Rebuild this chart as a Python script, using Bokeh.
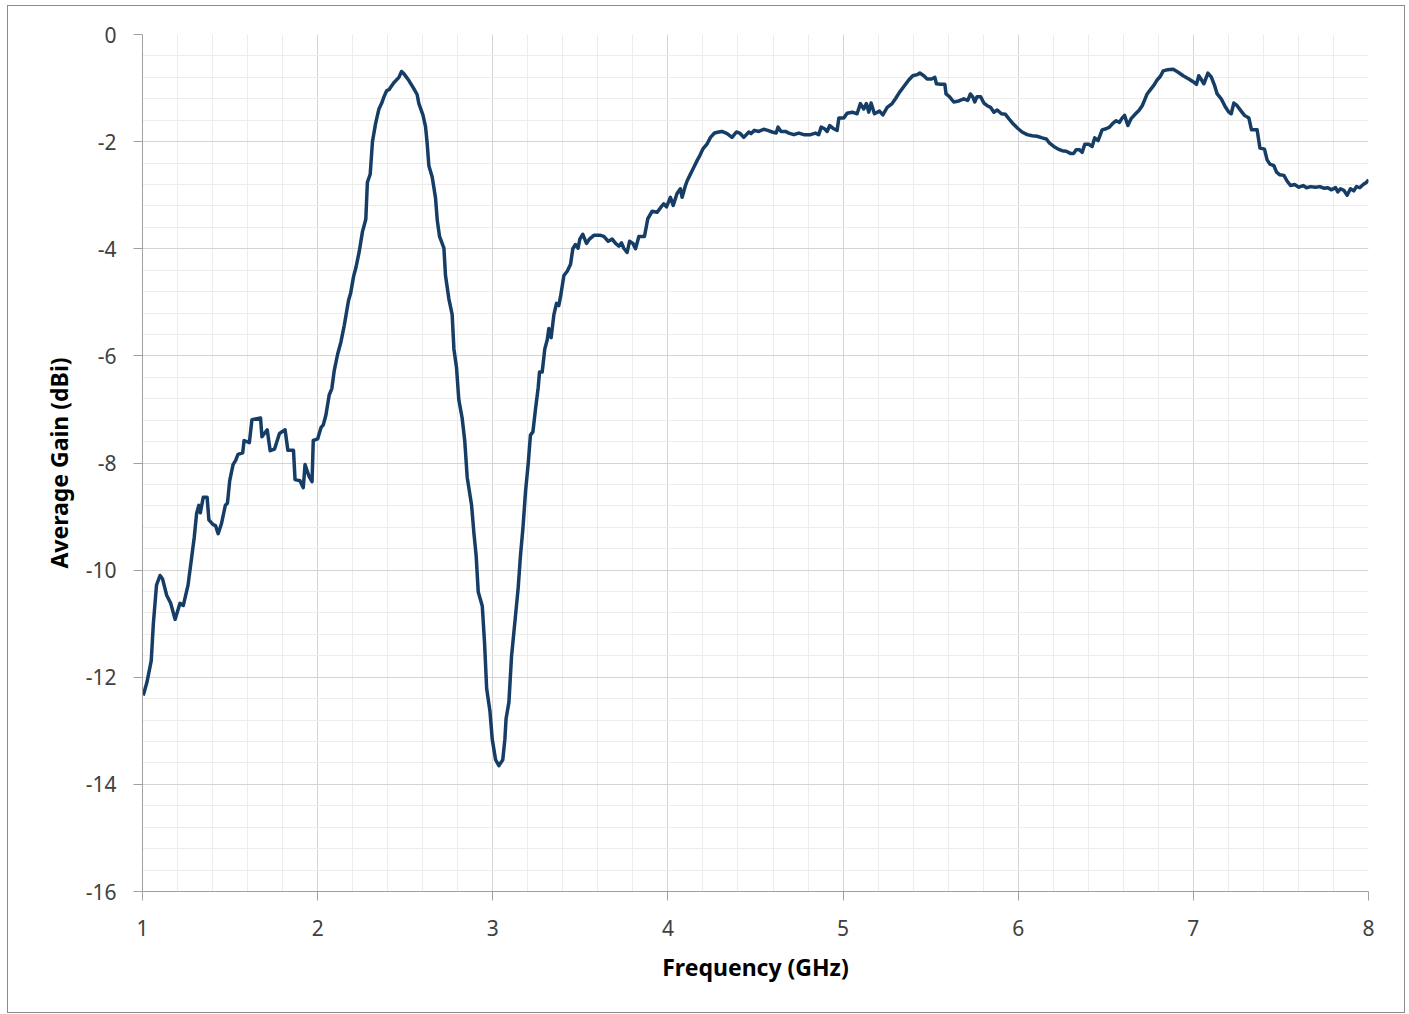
from bokeh.plotting import figure
from bokeh.models import Range1d, SingleIntervalTicker
from bokeh.embed import file_html
from bokeh.resources import INLINE

# ---- data ----
freq_ghz = [
    1.004, 1.025, 1.05, 1.062, 1.08, 1.10, 1.114, 1.138, 1.161, 1.186, 1.214, 1.233, 1.26, 1.28, 1.295,
    1.309, 1.322, 1.33, 1.347, 1.369, 1.379, 1.403, 1.417, 1.432, 1.451, 1.473, 1.485, 1.498, 1.517,
    1.532, 1.545, 1.572, 1.58, 1.61, 1.625, 1.674, 1.682, 1.712, 1.729, 1.754, 1.782, 1.814, 1.83,
    1.862, 1.871, 1.899, 1.918, 1.928, 1.951, 1.968, 1.975, 2.0, 2.019, 2.032, 2.047, 2.066, 2.081,
    2.095, 2.114, 2.133, 2.152, 2.176, 2.189, 2.205, 2.218, 2.237, 2.256, 2.275, 2.284, 2.3, 2.313,
    2.331, 2.35, 2.366, 2.379, 2.394,
    2.407, 2.435, 2.464, 2.479, 2.492, 2.521, 2.549, 2.568, 2.578, 2.601, 2.616, 2.625, 2.635, 2.654,
    2.673, 2.683, 2.696, 2.721, 2.73, 2.749, 2.768, 2.778, 2.793, 2.806, 2.825, 2.84, 2.854, 2.879,
    2.892, 2.905, 2.917, 2.94, 2.953, 2.965, 2.984, 2.997, 3.016, 3.035, 3.057, 3.069, 3.076, 3.092,
    3.107, 3.13, 3.145, 3.158, 3.172, 3.187, 3.202, 3.215, 3.229, 3.244, 3.259, 3.267, 3.282, 3.297,
    3.311, 3.32, 3.333, 3.349, 3.364, 3.377, 3.387, 3.406, 3.425, 3.444, 3.457, 3.472, 3.487, 3.497,
    3.514, 3.535, 3.552, 3.577, 3.615, 3.634, 3.659, 3.682, 3.701, 3.72, 3.735, 3.748, 3.767, 3.781,
    3.8,
    3.815, 3.834, 3.866, 3.885, 3.91, 3.938, 3.961, 3.976, 3.992, 4.014, 4.03, 4.052, 4.071, 4.081,
    4.1, 4.11, 4.125, 4.148, 4.167, 4.182, 4.201, 4.224, 4.243, 4.266, 4.29, 4.309, 4.338, 4.366,
    4.391, 4.41, 4.433, 4.462, 4.475, 4.494, 4.519, 4.547, 4.57, 4.595, 4.618, 4.629, 4.646, 4.671,
    4.69, 4.719, 4.747, 4.776, 4.814, 4.842, 4.861, 4.875, 4.894, 4.909, 4.924, 4.947, 4.966, 4.976,
    5.004, 5.023, 5.052, 5.08, 5.099, 5.118, 5.133, 5.147, 5.16, 5.179,
    5.208, 5.227, 5.252, 5.28, 5.299, 5.322, 5.347, 5.375, 5.398, 5.423, 5.438, 5.461, 5.48, 5.505,
    5.524, 5.533, 5.556, 5.581, 5.588, 5.607, 5.632, 5.661, 5.689, 5.712, 5.727, 5.741, 5.752, 5.765,
    5.785, 5.804, 5.823, 5.842, 5.861, 5.88, 5.904, 5.927, 5.946, 5.969, 6.0, 6.022, 6.051, 6.08,
    6.108, 6.137, 6.16, 6.179, 6.203, 6.228, 6.251, 6.274, 6.298, 6.317, 6.331, 6.35, 6.365, 6.38,
    6.403, 6.422, 6.437, 6.456, 6.479, 6.502, 6.521, 6.54, 6.559, 6.578,
    6.593, 6.607, 6.626, 6.645, 6.67, 6.689, 6.708, 6.721, 6.736, 6.755, 6.774, 6.793, 6.812, 6.828,
    6.85, 6.885, 6.911, 6.942, 6.974, 7.003, 7.018, 7.031, 7.047, 7.06, 7.083, 7.102, 7.121, 7.136,
    7.159, 7.184, 7.203, 7.216, 7.231, 7.25, 7.273, 7.292, 7.317, 7.332, 7.364, 7.38, 7.406, 7.421,
    7.437, 7.46, 7.475, 7.494, 7.517, 7.536, 7.555, 7.578, 7.602, 7.627, 7.646, 7.669, 7.697, 7.722,
    7.745, 7.768, 7.787, 7.812, 7.825, 7.84, 7.859, 7.878, 7.897, 7.916, 7.931, 7.95, 7.97, 7.989,
    8.0,
]
avg_gain_dbi = [
    -12.34, -12.1, -11.69, -11.0, -10.28, -10.1, -10.16, -10.47, -10.62, -10.92, -10.62, -10.66, -10.28,
    -9.78, -9.4, -8.94, -8.79, -8.93, -8.64, -8.64, -9.06, -9.15, -9.17, -9.32, -9.13, -8.79, -8.75,
    -8.33, -8.03, -7.95, -7.84, -7.81, -7.58, -7.62, -7.19, -7.16, -7.51, -7.38, -7.77, -7.74, -7.45,
    -7.38, -7.76, -7.76, -8.31, -8.33, -8.46, -8.03, -8.25, -8.35, -7.58, -7.55, -7.34, -7.29, -7.11,
    -6.73, -6.61, -6.27, -5.97, -5.74, -5.43, -4.97, -4.82, -4.52, -4.36, -4.06, -3.68, -3.45, -2.76,
    -2.61, -2.0, -1.66, -1.39, -1.28, -1.16, -1.05,
    -1.03, -0.90, -0.80, -0.69, -0.73, -0.86, -1.01, -1.12, -1.29, -1.50, -1.72, -2.02, -2.45, -2.66,
    -3.05, -3.47, -3.77, -3.99, -4.50, -4.93, -5.23, -5.87, -6.22, -6.82, -7.16, -7.59, -8.27, -8.79,
    -9.30, -9.73, -10.41, -10.67, -11.36, -12.21, -12.64, -13.16, -13.54, -13.65, -13.54, -13.16,
    -12.77, -12.47, -11.61, -10.84, -10.33, -9.73, -9.22, -8.53, -8.02, -7.48, -7.42, -6.99, -6.60,
    -6.30, -6.30, -5.87, -5.70, -5.49, -5.66, -5.23, -5.02, -5.06, -4.89, -4.50, -4.42, -4.29, -4.0,
    -3.92, -3.99, -3.82, -3.73, -3.90, -3.82, -3.75, -3.75, -3.77, -3.86, -3.82, -3.90, -3.95, -3.89,
    -3.99, -4.07, -3.86, -3.90,
    -4.0, -3.77, -3.77, -3.44, -3.30, -3.32, -3.22, -3.16, -3.22, -3.04, -3.19, -2.97, -2.88, -3.04,
    -2.82, -2.73, -2.63, -2.48, -2.35, -2.26, -2.13, -2.04, -1.92, -1.84, -1.82, -1.81, -1.85, -1.92,
    -1.82, -1.84, -1.92, -1.82, -1.85, -1.79, -1.81, -1.77, -1.79, -1.82, -1.84, -1.73, -1.81, -1.81,
    -1.84, -1.87, -1.84, -1.87, -1.87, -1.84, -1.87, -1.73, -1.76, -1.81, -1.70, -1.76, -1.79, -1.56,
    -1.56, -1.47, -1.45, -1.48, -1.29, -1.39, -1.29, -1.45, -1.28, -1.48,
    -1.43, -1.50, -1.36, -1.29, -1.20, -1.08, -0.97, -0.85, -0.77, -0.75, -0.72, -0.77, -0.83, -0.83,
    -0.80, -0.92, -0.93, -0.93, -1.11, -1.16, -1.26, -1.24, -1.20, -1.23, -1.11, -1.17, -1.26, -1.16,
    -1.16, -1.28, -1.33, -1.36, -1.45, -1.41, -1.48, -1.49, -1.57, -1.66, -1.76, -1.82, -1.87, -1.89,
    -1.90, -1.93, -1.95, -2.03, -2.09, -2.14, -2.17, -2.18, -2.22, -2.22, -2.15, -2.15, -2.20, -2.05,
    -2.05, -2.09, -1.93, -1.98, -1.78, -1.76, -1.73, -1.66, -1.61, -1.64,
    -1.56, -1.51, -1.70, -1.57, -1.48, -1.42, -1.33, -1.23, -1.11, -1.03, -0.95, -0.85, -0.78, -0.68,
    -0.66, -0.65, -0.70, -0.77, -0.83, -0.89, -0.93, -0.77, -0.85, -0.92, -0.72, -0.79, -0.95, -1.11,
    -1.20, -1.36, -1.45, -1.48, -1.28, -1.33, -1.43, -1.51, -1.56, -1.78, -1.78, -2.12, -2.14, -2.34,
    -2.42, -2.45, -2.57, -2.62, -2.63, -2.74, -2.82, -2.80, -2.85, -2.82, -2.86, -2.84, -2.85, -2.84,
    -2.87, -2.86, -2.90, -2.86, -2.94, -2.88, -2.91, -3.0, -2.88, -2.92, -2.84, -2.86, -2.80, -2.76,
    -2.71,
]
x_ticks = [1, 2, 3, 4, 5, 6, 7, 8]
y_ticks = [0, -2, -4, -6, -8, -10, -12, -14, -16]
y_tick_labels = ["0", "-2", "-4", "-6", "-8", "-10", "-12", "-14", "-16"]
x_title = "Frequency (GHz)"
y_title = "Average Gain (dBi)"

FONT = "Noto Sans"

p = figure(
    width=1405, height=1013,
    x_range=Range1d(1, 8), y_range=Range1d(-16, 0),
    output_backend="svg", toolbar_location=None,
    min_border_left=142, min_border_right=37, min_border_top=34, min_border_bottom=122,
)
p.stylesheets = [
    ":host { position: relative; }",
    ":host::after { content: ''; position: absolute; left: 7px; top: 5px; width: 1396px; height: 1006px;"
    " border: 1px solid #8c8c8c; pointer-events: none; }",
]
p.outline_line_color = None
p.background_fill_color = "white"
p.border_fill_color = "white"

p.xaxis.ticker = SingleIntervalTicker(interval=1, num_minor_ticks=5)
p.yaxis.ticker = SingleIntervalTicker(interval=2, num_minor_ticks=5)
p.yaxis.major_label_overrides = {t: s for t, s in zip(y_ticks, y_tick_labels)}
p.xaxis.major_label_overrides = {t: str(t) for t in x_ticks}

for ax in (p.xaxis, p.yaxis):
    ax.axis_line_color = "#a0a0a0"
    ax.axis_line_width = 1
    ax.major_tick_line_color = "#a0a0a0"
    ax.major_tick_out = 9
    ax.major_tick_in = 0
    ax.minor_tick_line_color = None
    ax.major_label_text_font = FONT
    ax.major_label_text_font_size = "21px"
    ax.major_label_text_color = "#404040"
    ax.axis_label_text_font = FONT
    ax.axis_label_text_font_size = "23px"
    ax.axis_label_text_font_style = "bold"
    ax.axis_label_text_color = "#000000"

p.xaxis.axis_label = x_title
p.yaxis.axis_label = y_title
p.yaxis.major_label_standoff = 17
p.xaxis.major_label_standoff = 19
p.yaxis.axis_label_standoff = 8
p.xaxis.axis_label_standoff = 12

for g in (p.xgrid, p.ygrid):
    g.grid_line_color = "#d4d4d4"
    g.grid_line_width = 1
    g.minor_grid_line_color = "#ececec"
    g.minor_grid_line_width = 1

p.line(freq_ghz, avg_gain_dbi, line_color="#163d66", line_width=3.5, line_join="round")

open("out.html", "w").write(file_html(p, INLINE))
